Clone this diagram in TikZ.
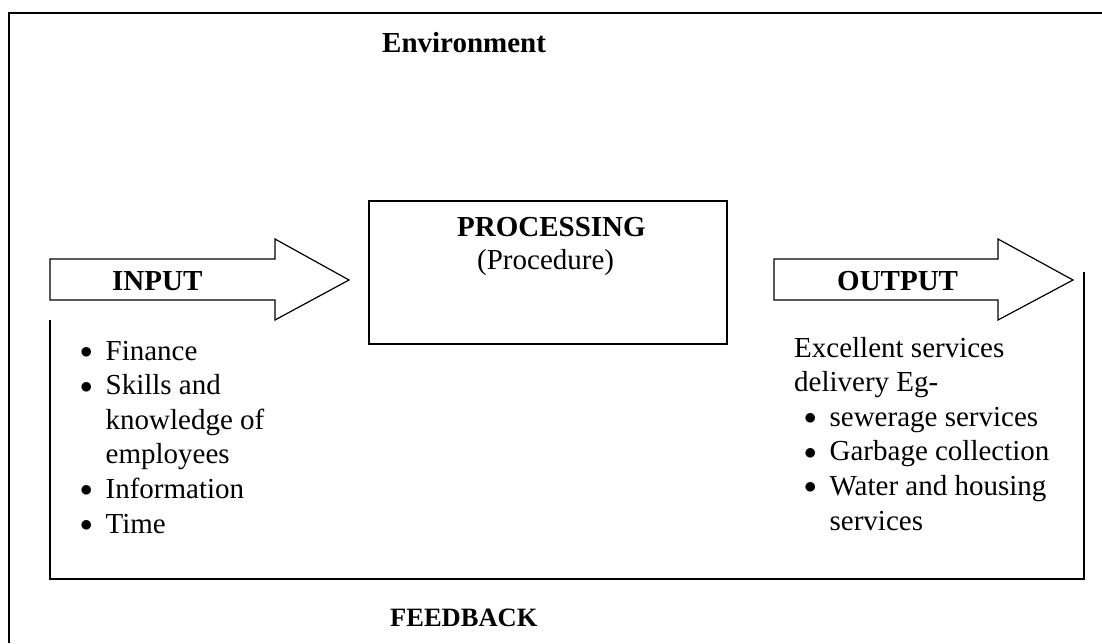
\documentclass[tikz,border=0pt]{standalone}
\usepackage{fontspec}
\setmainfont{Liberation Serif}
\newcommand\bodysize{\fontsize{29}{34.6}\selectfont}
\newcommand\blt{\raisebox{1.5pt}{$\bullet$}}
\tikzset{
  label/.style={font=\bodysize, inner sep=0pt, anchor=base west},
  head/.style={label, font=\bodysize\bfseries},
  blockarrow/.style={draw, line width=1.2pt, fill=white},
}
\begin{document}
\begin{tikzpicture}[x=1pt,y=-1pt]

        \useasboundingbox (0,0) rectangle (1102,643);

        % environment frame (runs off the page)
        \draw[line width=1.6pt] (9,643) -- (9,13) -- (1102,13);

        \node[head] (env) at (382,52) {Environment};

        % block arrows
        \draw[blockarrow] (50,259) -- (275,259) -- (275,239) -- (349,280)
          -- (275,320) -- (275,300) -- (50,300) -- cycle;
        \draw[blockarrow] (774,259) -- (998,259) -- (998,239) -- (1073,280)
          -- (998,320) -- (998,300) -- (774,300) -- cycle;

        \node[head] (input)  at (112,290) {INPUT};
        \node[head] (output) at (837,290) {OUTPUT};

        % processing box
        \node[draw, line width=1.2pt, minimum width=358pt, minimum height=143pt]
          (proc) at (548,272.5) {};
        \node[head]  (proctitle) at (457,236) {PROCESSING};
        \node[label] (procsub)   at (477,269) {(Procedure)};

        % lists
        \node[label] (inlist) at (80,360) {%
          \begin{tabular}[t]{@{}l@{\hspace{13pt}}l@{}}
            \blt & Finance\\
            \blt & Skills and\\
                 & knowledge of\\
                 & employees\\
            \blt & Information\\
            \blt & Time
          \end{tabular}};

        \node[label] (outlist) at (794,357) {%
          \begin{tabular}[t]{@{\hspace{10pt}}l@{\hspace{13pt}}l@{}}
            \multicolumn{2}{@{}l@{}}{Excellent services}\\
            \multicolumn{2}{@{}l@{}}{delivery Eg-}\\
            \blt & sewerage services\\
            \blt & Garbage collection\\
            \blt & Water and housing\\
                 & services
          \end{tabular}};

        % feedback loop
        \coordinate (fbin)  at (50,320);
        \coordinate (fbout) at (1084,272);
        \draw[line width=1.5pt] (fbin) -- ++(0,259) -| (fbout);

        \node[head, font=\fontsize{26.5}{30}\selectfont\bfseries] (feedback) at (390,626) {FEEDBACK};

      \end{tikzpicture}
\end{document}
